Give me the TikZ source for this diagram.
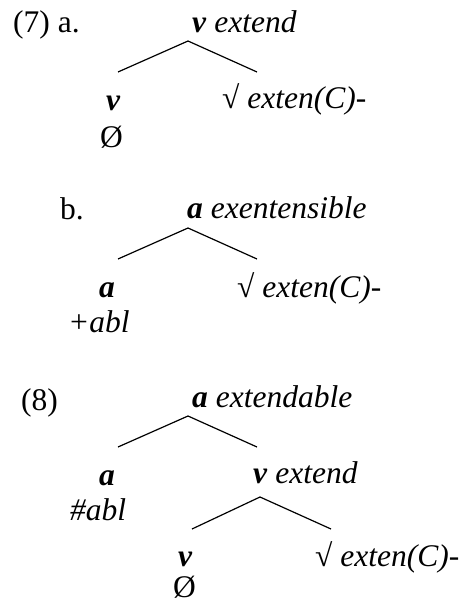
\documentclass[tikz,border=0pt]{standalone}
\usepackage{fontspec}
\setmainfont{Liberation Serif}
\newcommand{\cat}[1]{\textbf{\textit{#1}}}

\begin{document}
\begin{tikzpicture}[x=1pt,y=-1pt,
  every node/.style={anchor=base west,inner sep=0pt,font=\fontsize{31.5}{36}\selectfont},
  branch/.style={line width=1.2pt}]
  \useasboundingbox (0,0) rectangle (463,605);
  % (7) a.
  \node (ex7)    at (13,32)   {(7) a.};
  \node (a-root) at (192,32)  {\cat{v} \textit{extend}};
  \node (a-v)    at (106,110) {\cat{v}};
  \node (a-null) at (100,147) {Ø};
  \node (a-rt)   at (222,108) {√ \textit{exten(C)-}};
  \coordinate (a-top) at (188,41);
  \coordinate (a-l) at (118,72);
  \coordinate (a-r) at (257,72);
  \draw[branch] (a-l) -- (a-top) -- (a-r);
  % b.
  \node (exb)    at (60,219)  {b.};
  \node (b-root) at (187,218) {\cat{a} \textit{exentensible}};
  \node (b-a)    at (99,297)  {\cat{a}};
  \node (b-abl)  at (68,332)  {\textit{+abl}};
  \node (b-rt)   at (237,297) {√ \textit{exten(C)-}};
  \coordinate (b-top) at (188,228);
  \coordinate (b-l) at (118,259);
  \coordinate (b-r) at (257,259);
  \draw[branch] (b-l) -- (b-top) -- (b-r);
  % (8)
  \node (ex8)    at (21,410)  {(8)};
  \node (c-root) at (192,407) {\cat{a} \textit{extendable}};
  \node (c-a)    at (99,485)  {\cat{a}};
  \node (c-abl)  at (70,520)  {\textit{\#abl}};
  \node (c-v)    at (253,483) {\cat{v} \textit{extend}};
  \node (c-vv)   at (178,566) {\cat{v}};
  \node (c-null) at (173,597) {Ø};
  \node (c-rt)   at (315,566) {√ \textit{exten(C)-}};
  \coordinate (c-top) at (188,416);
  \coordinate (c-l) at (118,447);
  \coordinate (c-r) at (257,447);
  \draw[branch] (c-l) -- (c-top) -- (c-r);
  \coordinate (d-top) at (260,497);
  \coordinate (d-l) at (192,529);
  \coordinate (d-r) at (331,529);
  \draw[branch] (d-l) -- (d-top) -- (d-r);
\end{tikzpicture}
\end{document}
